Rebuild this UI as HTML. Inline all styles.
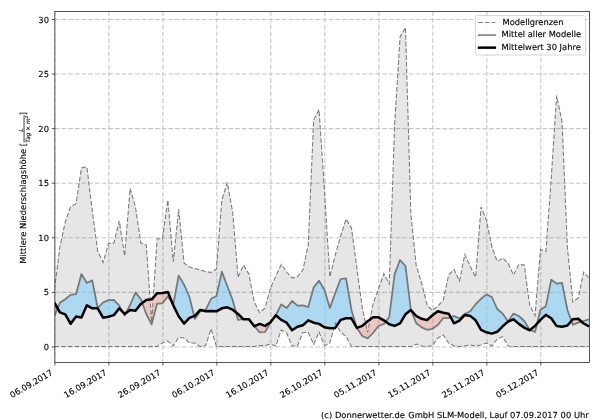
<!DOCTYPE html>
<html lang="de"><head><meta charset="utf-8"><title>Mittlere Niederschlagshöhe</title>
<style>
html,body{margin:0;padding:0;background:#fff;}
body{width:600px;height:420px;overflow:hidden;}
svg{display:block;}
text{font-family:'DejaVu Sans','Liberation Sans',sans-serif;fill:#000;stroke:#000;stroke-width:0.12px;text-rendering:geometricPrecision;}
</style></head><body>
<svg width="600" height="420" viewBox="0 0 600 420">
<rect width="600" height="420" fill="#fff"/>
<defs><clipPath id="ax"><rect x="54.87" y="11.45" width="534.58" height="351.0"/></clipPath></defs>
<g clip-path="url(#ax)">
<line x1="54.87" y1="362.45" x2="54.87" y2="11.45" stroke-dashoffset="1.0" stroke="#c6c6c6" stroke-width="1.1" stroke-dasharray="4.66 2.02" fill="none"/>
<line x1="108.87" y1="362.45" x2="108.87" y2="11.45" stroke-dashoffset="1.0" stroke="#c6c6c6" stroke-width="1.1" stroke-dasharray="4.66 2.02" fill="none"/>
<line x1="162.87" y1="362.45" x2="162.87" y2="11.45" stroke-dashoffset="1.0" stroke="#c6c6c6" stroke-width="1.1" stroke-dasharray="4.66 2.02" fill="none"/>
<line x1="216.86" y1="362.45" x2="216.86" y2="11.45" stroke-dashoffset="1.0" stroke="#c6c6c6" stroke-width="1.1" stroke-dasharray="4.66 2.02" fill="none"/>
<line x1="270.86" y1="362.45" x2="270.86" y2="11.45" stroke-dashoffset="1.0" stroke="#c6c6c6" stroke-width="1.1" stroke-dasharray="4.66 2.02" fill="none"/>
<line x1="324.86" y1="362.45" x2="324.86" y2="11.45" stroke-dashoffset="1.0" stroke="#c6c6c6" stroke-width="1.1" stroke-dasharray="4.66 2.02" fill="none"/>
<line x1="378.86" y1="362.45" x2="378.86" y2="11.45" stroke-dashoffset="1.0" stroke="#c6c6c6" stroke-width="1.1" stroke-dasharray="4.66 2.02" fill="none"/>
<line x1="432.86" y1="362.45" x2="432.86" y2="11.45" stroke-dashoffset="1.0" stroke="#c6c6c6" stroke-width="1.1" stroke-dasharray="4.66 2.02" fill="none"/>
<line x1="486.85" y1="362.45" x2="486.85" y2="11.45" stroke-dashoffset="1.0" stroke="#c6c6c6" stroke-width="1.1" stroke-dasharray="4.66 2.02" fill="none"/>
<line x1="540.85" y1="362.45" x2="540.85" y2="11.45" stroke-dashoffset="1.0" stroke="#c6c6c6" stroke-width="1.1" stroke-dasharray="4.66 2.02" fill="none"/>
<line x1="54.87" y1="347.00" x2="589.45" y2="347.00" stroke="#c6c6c6" stroke-width="1.1" stroke-dasharray="4.66 2.02" fill="none"/>
<line x1="54.87" y1="292.41" x2="589.45" y2="292.41" stroke="#c6c6c6" stroke-width="1.1" stroke-dasharray="4.66 2.02" fill="none"/>
<line x1="54.87" y1="237.82" x2="589.45" y2="237.82" stroke="#c6c6c6" stroke-width="1.1" stroke-dasharray="4.66 2.02" fill="none"/>
<line x1="54.87" y1="183.23" x2="589.45" y2="183.23" stroke="#c6c6c6" stroke-width="1.1" stroke-dasharray="4.66 2.02" fill="none"/>
<line x1="54.87" y1="128.64" x2="589.45" y2="128.64" stroke="#c6c6c6" stroke-width="1.1" stroke-dasharray="4.66 2.02" fill="none"/>
<line x1="54.87" y1="74.05" x2="589.45" y2="74.05" stroke="#c6c6c6" stroke-width="1.1" stroke-dasharray="4.66 2.02" fill="none"/>
<line x1="54.87" y1="19.46" x2="589.45" y2="19.46" stroke="#c6c6c6" stroke-width="1.1" stroke-dasharray="4.66 2.02" fill="none"/>
<polygon points="54.47,289.60 59.87,247.00 65.27,222.00 70.67,206.60 76.07,203.60 81.47,167.90 86.87,166.90 92.27,211.00 97.67,251.00 103.07,262.40 108.47,243.60 113.87,243.00 119.27,221.00 124.67,256.00 130.07,188.40 135.47,207.00 140.87,243.00 146.27,245.00 151.67,322.00 157.07,239.00 162.47,238.60 167.87,200.00 173.27,262.00 178.67,209.40 184.07,263.00 189.46,267.00 194.86,268.60 200.26,270.00 205.66,271.60 211.06,272.40 216.46,269.00 221.86,200.00 227.26,182.40 232.66,212.00 238.06,277.50 243.46,265.00 248.86,274.00 254.26,302.00 259.66,312.70 265.06,308.00 270.46,288.00 275.86,276.00 281.26,264.40 286.66,272.00 292.06,278.00 297.46,276.80 302.86,270.00 308.26,245.00 313.66,120.00 319.06,109.60 324.46,191.00 329.86,277.00 335.26,255.00 340.66,236.00 346.06,219.00 351.46,228.00 356.86,268.00 362.26,308.00 367.66,332.50 373.06,304.00 378.46,289.00 383.86,273.60 389.26,284.00 394.66,124.00 400.06,37.00 405.46,27.40 410.86,214.00 416.26,266.00 421.66,283.00 427.06,305.00 432.46,310.60 437.86,306.00 443.26,300.00 448.66,275.00 454.06,269.40 459.45,281.00 464.85,254.40 470.25,266.50 475.65,277.00 481.05,207.00 486.45,220.00 491.85,247.00 497.25,261.50 502.65,258.00 508.05,263.00 513.45,275.00 518.85,264.40 524.25,265.00 529.65,305.00 535.05,315.60 540.45,249.50 545.85,251.50 551.25,178.00 556.65,95.60 562.05,122.00 567.45,248.00 572.85,302.00 578.25,298.00 583.65,272.00 589.05,278.00 589.05,346.50 583.65,346.50 578.25,346.50 572.85,346.50 567.45,346.50 562.05,346.50 556.65,346.50 551.25,346.50 545.85,346.50 540.45,346.50 535.05,346.50 529.65,346.50 524.25,346.50 518.85,346.50 513.45,346.50 508.05,346.00 502.65,336.60 497.25,339.00 491.85,346.00 486.45,343.00 481.05,345.00 475.65,346.00 470.25,345.00 464.85,346.00 459.45,346.50 454.06,346.00 448.66,343.00 443.26,335.00 437.86,338.00 432.46,345.60 427.06,346.50 421.66,346.00 416.26,344.00 410.86,346.50 405.46,346.50 400.06,346.50 394.66,346.50 389.26,346.50 383.86,346.50 378.46,346.50 373.06,346.50 367.66,346.50 362.26,346.50 356.86,346.50 351.46,346.50 346.06,336.40 340.66,332.00 335.26,323.00 329.86,343.00 324.46,345.60 319.06,332.00 313.66,344.40 308.26,332.40 302.86,332.40 297.46,346.00 292.06,346.00 286.66,333.00 281.26,330.00 275.86,346.00 270.46,344.00 265.06,345.60 259.66,345.60 254.26,346.50 248.86,346.50 243.46,346.50 238.06,346.50 232.66,346.50 227.26,346.50 221.86,346.50 216.46,346.50 211.06,329.00 205.66,345.60 200.26,346.60 194.86,343.00 189.46,343.00 184.07,338.00 178.67,337.40 173.27,346.00 167.87,341.00 162.47,343.00 157.07,346.50 151.67,346.50 146.27,346.50 140.87,346.50 135.47,346.50 130.07,346.50 124.67,346.50 119.27,346.50 113.87,346.50 108.47,346.50 103.07,346.50 97.67,346.50 92.27,346.50 86.87,346.50 81.47,346.50 76.07,346.50 70.67,346.50 65.27,346.50 59.87,346.50 54.47,346.50" fill="#808080" fill-opacity="0.2"/>
<polygon points="57.62,308.30 59.87,302.80 65.27,299.20 70.67,294.90 76.07,294.10 81.47,274.00 86.87,283.00 92.27,280.40 97.67,308.00 103.07,302.50 108.47,300.10 113.87,299.90 119.27,305.60 122.58,311.74 122.58,311.74 119.27,308.30 113.87,315.10 108.47,316.70 103.07,317.70 97.67,308.30 92.27,308.30 86.87,305.30 81.47,317.40 76.07,316.40 70.67,323.80 65.27,314.30 59.87,312.30 57.62,308.30" fill="#87cefa" fill-opacity="0.6"/>
<polygon points="126.06,312.87 130.07,305.00 135.47,292.60 140.87,299.00 142.26,302.87 142.26,302.87 140.87,303.90 135.47,310.70 130.07,309.90 126.06,312.87" fill="#87cefa" fill-opacity="0.6"/>
<polygon points="172.54,303.50 173.27,304.60 178.67,275.60 184.07,284.60 189.46,297.00 194.17,316.16 194.17,316.16 189.46,317.90 184.07,323.60 178.67,316.30 173.27,305.30 172.54,303.50" fill="#87cefa" fill-opacity="0.6"/>
<polygon points="202.87,310.58 205.66,309.80 211.06,298.80 216.46,296.00 221.86,271.60 227.26,286.00 232.66,300.00 235.98,312.28 235.98,312.28 232.66,309.70 227.26,307.30 221.86,308.30 216.46,311.30 211.06,310.90 205.66,311.30 202.87,310.58" fill="#87cefa" fill-opacity="0.6"/>
<polygon points="243.21,319.05 243.46,319.00 248.86,319.00 254.26,326.00 254.45,326.22 254.45,326.22 254.26,326.30 248.86,319.30 243.46,319.30 243.21,319.05" fill="#87cefa" fill-opacity="0.6"/>
<polygon points="274.24,317.40 275.86,315.00 281.26,304.40 286.66,308.00 292.06,301.00 297.46,305.60 302.86,305.40 308.26,307.00 313.66,287.40 319.06,280.60 324.46,290.00 329.86,308.00 335.26,293.00 340.66,279.00 346.06,278.40 351.46,310.00 356.79,327.79 356.79,327.79 351.46,318.30 346.06,318.30 340.66,319.90 335.26,327.90 329.86,328.30 324.46,327.30 319.06,323.90 313.66,322.70 308.26,320.30 302.86,325.30 297.46,326.70 292.06,330.30 286.66,322.70 281.26,319.90 275.86,315.30 274.24,317.40" fill="#87cefa" fill-opacity="0.6"/>
<polygon points="385.67,321.65 389.26,317.00 394.66,274.00 400.06,260.00 405.46,266.00 410.86,310.00 410.86,310.00 405.46,314.30 400.06,323.30 394.66,325.90 389.26,324.30 385.67,321.65" fill="#87cefa" fill-opacity="0.6"/>
<polygon points="450.66,317.26 454.06,316.00 459.45,318.40 464.85,314.00 470.25,311.30 475.65,304.20 481.05,298.80 486.45,294.40 491.85,297.00 497.25,309.00 502.65,313.60 508.05,321.50 513.45,313.60 518.85,316.00 524.25,321.00 529.65,329.80 530.06,329.97 530.06,329.97 529.65,330.30 524.25,327.60 518.85,323.90 513.45,319.30 508.05,321.60 502.65,326.30 497.25,331.80 491.85,333.60 486.45,332.30 481.05,329.80 475.65,320.30 470.25,315.90 464.85,314.90 459.45,320.70 454.06,323.30 450.66,317.26" fill="#87cefa" fill-opacity="0.6"/>
<polygon points="537.09,323.64 540.45,309.80 545.85,306.20 551.25,279.60 556.65,283.60 562.05,282.80 567.45,310.00 571.44,320.92 571.44,320.92 567.45,325.50 562.05,326.80 556.65,326.10 551.25,318.30 545.85,314.90 540.45,319.90 537.09,323.64" fill="#87cefa" fill-opacity="0.6"/>
<polygon points="581.54,321.62 583.65,321.00 589.05,319.30 589.05,326.30 583.65,323.50 581.54,321.62" fill="#87cefa" fill-opacity="0.6"/>
<polygon points="54.47,316.00 57.62,308.30 57.62,308.30 54.47,302.70" fill="#fa8072" fill-opacity="0.3"/>
<polygon points="122.58,311.74 124.67,315.60 126.06,312.87 126.06,312.87 124.67,313.90 122.58,311.74" fill="#fa8072" fill-opacity="0.3"/>
<polygon points="142.26,302.87 146.27,314.00 151.67,324.40 157.07,303.60 162.47,303.30 167.87,296.40 172.54,303.50 172.54,303.50 167.87,291.90 162.47,292.90 157.07,293.30 151.67,299.30 146.27,299.90 142.26,302.87" fill="#fa8072" fill-opacity="0.3"/>
<polygon points="194.17,316.16 194.86,319.00 200.26,311.30 202.87,310.58 202.87,310.58 200.26,309.90 194.86,315.90 194.17,316.16" fill="#fa8072" fill-opacity="0.3"/>
<polygon points="235.98,312.28 238.06,320.00 243.21,319.05 243.21,319.05 238.06,313.90 235.98,312.28" fill="#fa8072" fill-opacity="0.3"/>
<polygon points="254.45,326.22 259.66,332.40 265.06,332.00 270.46,323.00 274.24,317.40 274.24,317.40 270.46,322.30 265.06,325.90 259.66,323.90 254.45,326.22" fill="#fa8072" fill-opacity="0.3"/>
<polygon points="356.79,327.79 356.86,328.00 362.26,336.00 367.66,338.40 373.06,333.00 378.46,326.00 383.86,324.00 385.67,321.65 385.67,321.65 383.86,320.30 378.46,317.30 373.06,317.30 367.66,321.30 362.26,325.90 356.86,327.90 356.79,327.79" fill="#fa8072" fill-opacity="0.3"/>
<polygon points="410.86,310.00 416.26,323.20 421.66,327.40 427.06,329.80 432.46,328.80 437.86,325.00 443.26,318.00 448.66,318.00 450.66,317.26 450.66,317.26 448.66,313.70 443.26,312.70 437.86,311.30 432.46,315.30 427.06,320.10 421.66,318.80 416.26,316.00 410.86,310.00" fill="#fa8072" fill-opacity="0.3"/>
<polygon points="530.06,329.97 535.05,332.00 537.09,323.64 537.09,323.64 535.05,325.90 530.06,329.97" fill="#fa8072" fill-opacity="0.3"/>
<polygon points="571.44,320.92 572.85,324.80 578.25,322.60 581.54,321.62 581.54,321.62 578.25,318.70 572.85,319.30 571.44,320.92" fill="#fa8072" fill-opacity="0.3"/>
<polyline points="54.47,289.60 59.87,247.00 65.27,222.00 70.67,206.60 76.07,203.60 81.47,167.90 86.87,166.90 92.27,211.00 97.67,251.00 103.07,262.40 108.47,243.60 113.87,243.00 119.27,221.00 124.67,256.00 130.07,188.40 135.47,207.00 140.87,243.00 146.27,245.00 151.67,322.00 157.07,239.00 162.47,238.60 167.87,200.00 173.27,262.00 178.67,209.40 184.07,263.00 189.46,267.00 194.86,268.60 200.26,270.00 205.66,271.60 211.06,272.40 216.46,269.00 221.86,200.00 227.26,182.40 232.66,212.00 238.06,277.50 243.46,265.00 248.86,274.00 254.26,302.00 259.66,312.70 265.06,308.00 270.46,288.00 275.86,276.00 281.26,264.40 286.66,272.00 292.06,278.00 297.46,276.80 302.86,270.00 308.26,245.00 313.66,120.00 319.06,109.60 324.46,191.00 329.86,277.00 335.26,255.00 340.66,236.00 346.06,219.00 351.46,228.00 356.86,268.00 362.26,308.00 367.66,332.50 373.06,304.00 378.46,289.00 383.86,273.60 389.26,284.00 394.66,124.00 400.06,37.00 405.46,27.40 410.86,214.00 416.26,266.00 421.66,283.00 427.06,305.00 432.46,310.60 437.86,306.00 443.26,300.00 448.66,275.00 454.06,269.40 459.45,281.00 464.85,254.40 470.25,266.50 475.65,277.00 481.05,207.00 486.45,220.00 491.85,247.00 497.25,261.50 502.65,258.00 508.05,263.00 513.45,275.00 518.85,264.40 524.25,265.00 529.65,305.00 535.05,315.60 540.45,249.50 545.85,251.50 551.25,178.00 556.65,95.60 562.05,122.00 567.45,248.00 572.85,302.00 578.25,298.00 583.65,272.00 589.05,278.00" stroke="#787878" stroke-width="1.05" stroke-dasharray="4.66 2.02" fill="none" stroke-linejoin="miter"/>
<polyline points="54.47,346.50 59.87,346.50 65.27,346.50 70.67,346.50 76.07,346.50 81.47,346.50 86.87,346.50 92.27,346.50 97.67,346.50 103.07,346.50 108.47,346.50 113.87,346.50 119.27,346.50 124.67,346.50 130.07,346.50 135.47,346.50 140.87,346.50 146.27,346.50 151.67,346.50 157.07,346.50 162.47,343.00 167.87,341.00 173.27,346.00 178.67,337.40 184.07,338.00 189.46,343.00 194.86,343.00 200.26,346.60 205.66,345.60 211.06,329.00 216.46,346.50 221.86,346.50 227.26,346.50 232.66,346.50 238.06,346.50 243.46,346.50 248.86,346.50 254.26,346.50 259.66,345.60 265.06,345.60 270.46,344.00 275.86,346.00 281.26,330.00 286.66,333.00 292.06,346.00 297.46,346.00 302.86,332.40 308.26,332.40 313.66,344.40 319.06,332.00 324.46,345.60 329.86,343.00 335.26,323.00 340.66,332.00 346.06,336.40 351.46,346.50 356.86,346.50 362.26,346.50 367.66,346.50 373.06,346.50 378.46,346.50 383.86,346.50 389.26,346.50 394.66,346.50 400.06,346.50 405.46,346.50 410.86,346.50 416.26,344.00 421.66,346.00 427.06,346.50 432.46,345.60 437.86,338.00 443.26,335.00 448.66,343.00 454.06,346.00 459.45,346.50 464.85,346.00 470.25,345.00 475.65,346.00 481.05,345.00 486.45,343.00 491.85,346.00 497.25,339.00 502.65,336.60 508.05,346.00 513.45,346.50 518.85,346.50 524.25,346.50 529.65,346.50 535.05,346.50 540.45,346.50 545.85,346.50 551.25,346.50 556.65,346.50 562.05,346.50 567.45,346.50 572.85,346.50 578.25,346.50 583.65,346.50 589.05,346.50" stroke="#787878" stroke-width="1.05" stroke-dasharray="4.66 2.02" fill="none" stroke-linejoin="miter"/>
<polyline points="54.47,316.00 59.87,302.80 65.27,299.20 70.67,294.90 76.07,294.10 81.47,274.00 86.87,283.00 92.27,280.40 97.67,308.00 103.07,302.50 108.47,300.10 113.87,299.90 119.27,305.60 124.67,315.60 130.07,305.00 135.47,292.60 140.87,299.00 146.27,314.00 151.67,324.40 157.07,303.60 162.47,303.30 167.87,296.40 173.27,304.60 178.67,275.60 184.07,284.60 189.46,297.00 194.86,319.00 200.26,311.30 205.66,309.80 211.06,298.80 216.46,296.00 221.86,271.60 227.26,286.00 232.66,300.00 238.06,320.00 243.46,319.00 248.86,319.00 254.26,326.00 259.66,332.40 265.06,332.00 270.46,323.00 275.86,315.00 281.26,304.40 286.66,308.00 292.06,301.00 297.46,305.60 302.86,305.40 308.26,307.00 313.66,287.40 319.06,280.60 324.46,290.00 329.86,308.00 335.26,293.00 340.66,279.00 346.06,278.40 351.46,310.00 356.86,328.00 362.26,336.00 367.66,338.40 373.06,333.00 378.46,326.00 383.86,324.00 389.26,317.00 394.66,274.00 400.06,260.00 405.46,266.00 410.86,310.00 416.26,323.20 421.66,327.40 427.06,329.80 432.46,328.80 437.86,325.00 443.26,318.00 448.66,318.00 454.06,316.00 459.45,318.40 464.85,314.00 470.25,311.30 475.65,304.20 481.05,298.80 486.45,294.40 491.85,297.00 497.25,309.00 502.65,313.60 508.05,321.50 513.45,313.60 518.85,316.00 524.25,321.00 529.65,329.80 535.05,332.00 540.45,309.80 545.85,306.20 551.25,279.60 556.65,283.60 562.05,282.80 567.45,310.00 572.85,324.80 578.25,322.60 583.65,321.00 589.05,319.30" stroke="#777777" stroke-width="1.75" fill="none" stroke-linejoin="round"/>
<polyline points="54.47,302.70 59.87,312.30 65.27,314.30 70.67,323.80 76.07,316.40 81.47,317.40 86.87,305.30 92.27,308.30 97.67,308.30 103.07,317.70 108.47,316.70 113.87,315.10 119.27,308.30 124.67,313.90 130.07,309.90 135.47,310.70 140.87,303.90 146.27,299.90 151.67,299.30 157.07,293.30 162.47,292.90 167.87,291.90 173.27,305.30 178.67,316.30 184.07,323.60 189.46,317.90 194.86,315.90 200.26,309.90 205.66,311.30 211.06,310.90 216.46,311.30 221.86,308.30 227.26,307.30 232.66,309.70 238.06,313.90 243.46,319.30 248.86,319.30 254.26,326.30 259.66,323.90 265.06,325.90 270.46,322.30 275.86,315.30 281.26,319.90 286.66,322.70 292.06,330.30 297.46,326.70 302.86,325.30 308.26,320.30 313.66,322.70 319.06,323.90 324.46,327.30 329.86,328.30 335.26,327.90 340.66,319.90 346.06,318.30 351.46,318.30 356.86,327.90 362.26,325.90 367.66,321.30 373.06,317.30 378.46,317.30 383.86,320.30 389.26,324.30 394.66,325.90 400.06,323.30 405.46,314.30 410.86,310.00 416.26,316.00 421.66,318.80 427.06,320.10 432.46,315.30 437.86,311.30 443.26,312.70 448.66,313.70 454.06,323.30 459.45,320.70 464.85,314.90 470.25,315.90 475.65,320.30 481.05,329.80 486.45,332.30 491.85,333.60 497.25,331.80 502.65,326.30 508.05,321.60 513.45,319.30 518.85,323.90 524.25,327.60 529.65,330.30 535.05,325.90 540.45,319.90 545.85,314.90 551.25,318.30 556.65,326.10 562.05,326.80 567.45,325.50 572.85,319.30 578.25,318.70 583.65,323.50 589.05,326.30" stroke="#000" stroke-width="2.5" fill="none" stroke-linejoin="round" stroke-linecap="butt"/>
</g>
<rect x="54.87" y="11.45" width="534.58" height="351.0" fill="none" stroke="#000" stroke-width="0.67"/>
<line x1="54.87" y1="362.45" x2="54.87" y2="365.55" stroke="#000" stroke-width="0.67"/>
<line x1="108.87" y1="362.45" x2="108.87" y2="365.55" stroke="#000" stroke-width="0.67"/>
<line x1="162.87" y1="362.45" x2="162.87" y2="365.55" stroke="#000" stroke-width="0.67"/>
<line x1="216.86" y1="362.45" x2="216.86" y2="365.55" stroke="#000" stroke-width="0.67"/>
<line x1="270.86" y1="362.45" x2="270.86" y2="365.55" stroke="#000" stroke-width="0.67"/>
<line x1="324.86" y1="362.45" x2="324.86" y2="365.55" stroke="#000" stroke-width="0.67"/>
<line x1="378.86" y1="362.45" x2="378.86" y2="365.55" stroke="#000" stroke-width="0.67"/>
<line x1="432.86" y1="362.45" x2="432.86" y2="365.55" stroke="#000" stroke-width="0.67"/>
<line x1="486.85" y1="362.45" x2="486.85" y2="365.55" stroke="#000" stroke-width="0.67"/>
<line x1="540.85" y1="362.45" x2="540.85" y2="365.55" stroke="#000" stroke-width="0.67"/>
<line x1="51.769999999999996" y1="347.00" x2="54.87" y2="347.00" stroke="#000" stroke-width="0.67"/>
<text transform="translate(48.97,350.05)" font-size="8.33" text-anchor="end">0</text>
<line x1="51.769999999999996" y1="292.41" x2="54.87" y2="292.41" stroke="#000" stroke-width="0.67"/>
<text transform="translate(48.97,295.46)" font-size="8.33" text-anchor="end">5</text>
<line x1="51.769999999999996" y1="237.82" x2="54.87" y2="237.82" stroke="#000" stroke-width="0.67"/>
<text transform="translate(48.97,240.87)" font-size="8.33" text-anchor="end">10</text>
<line x1="51.769999999999996" y1="183.23" x2="54.87" y2="183.23" stroke="#000" stroke-width="0.67"/>
<text transform="translate(48.97,186.28)" font-size="8.33" text-anchor="end">15</text>
<line x1="51.769999999999996" y1="128.64" x2="54.87" y2="128.64" stroke="#000" stroke-width="0.67"/>
<text transform="translate(48.97,131.69)" font-size="8.33" text-anchor="end">20</text>
<line x1="51.769999999999996" y1="74.05" x2="54.87" y2="74.05" stroke="#000" stroke-width="0.67"/>
<text transform="translate(48.97,77.10)" font-size="8.33" text-anchor="end">25</text>
<line x1="51.769999999999996" y1="19.46" x2="54.87" y2="19.46" stroke="#000" stroke-width="0.67"/>
<text transform="translate(48.97,22.51)" font-size="8.33" text-anchor="end">30</text>
<text font-size="8.33" text-anchor="end" transform="translate(53.37,374.35) rotate(-30)">06.09.2017</text>
<text font-size="8.33" text-anchor="end" transform="translate(107.37,374.35) rotate(-30)">16.09.2017</text>
<text font-size="8.33" text-anchor="end" transform="translate(161.37,374.35) rotate(-30)">26.09.2017</text>
<text font-size="8.33" text-anchor="end" transform="translate(215.36,374.35) rotate(-30)">06.10.2017</text>
<text font-size="8.33" text-anchor="end" transform="translate(269.36,374.35) rotate(-30)">16.10.2017</text>
<text font-size="8.33" text-anchor="end" transform="translate(323.36,374.35) rotate(-30)">26.10.2017</text>
<text font-size="8.33" text-anchor="end" transform="translate(377.36,374.35) rotate(-30)">05.11.2017</text>
<text font-size="8.33" text-anchor="end" transform="translate(431.36,374.35) rotate(-30)">15.11.2017</text>
<text font-size="8.33" text-anchor="end" transform="translate(485.35,374.35) rotate(-30)">25.11.2017</text>
<text font-size="8.33" text-anchor="end" transform="translate(539.35,374.35) rotate(-30)">05.12.2017</text>
<g transform="translate(26.3,263.8) rotate(-90)"><text font-size="8.33" x="0" y="0" textLength="120.9" lengthAdjust="spacing">Mittlere Niederschlagshöhe [</text><text font-size="5.83" font-style="italic" x="133.8" y="-3.4" text-anchor="middle" style="stroke-width:0.1px">L</text><line x1="121.3" y1="-2.25" x2="148.6" y2="-2.25" stroke="#222" stroke-width="0.85"/><text font-size="5.83" font-style="italic" x="134.6" y="3.6" text-anchor="middle" style="stroke-width:0.1px">Tag × m<tspan font-size="4.1" dy="-2.2">2</tspan></text><text font-size="8.33" x="148.55" y="0">]</text></g>
<rect x="475.4" y="15.6" width="110" height="39.4" rx="1.7" ry="1.7" fill="#fff" fill-opacity="0.8" stroke="#cccccc" stroke-width="0.8"/>
<line x1="478.2" y1="22.5" x2="495.4" y2="22.5" stroke="#808080" stroke-width="0.95" stroke-dasharray="4.66 2.02"/>
<line x1="477.8" y1="35.1" x2="496.1" y2="35.1" stroke="#808080" stroke-width="1.6"/>
<line x1="477.8" y1="47.65" x2="496.1" y2="47.65" stroke="#000" stroke-width="2.5"/>
<text transform="translate(502.5,24.8)" font-size="8.33">Modellgrenzen</text>
<text transform="translate(501.6,37.45)" font-size="8.33">Mittel aller Modelle</text>
<text transform="translate(501.6,50.05)" font-size="8.33">Mittelwert 30 Jahre</text>
<text y="418" font-size="8.33" xml:space="preserve"><tspan x="321.1">(c)</tspan> <tspan x="334.9">Donnerwetter.de</tspan> <tspan x="408.2">GmbH</tspan> <tspan x="437.0">SLM-Modell,</tspan> <tspan x="489.5">Lauf</tspan> <tspan x="510.1">07.09.2017</tspan> <tspan x="560.6">00</tspan> <tspan x="573.9">Uhr</tspan></text>
</svg></body></html>
